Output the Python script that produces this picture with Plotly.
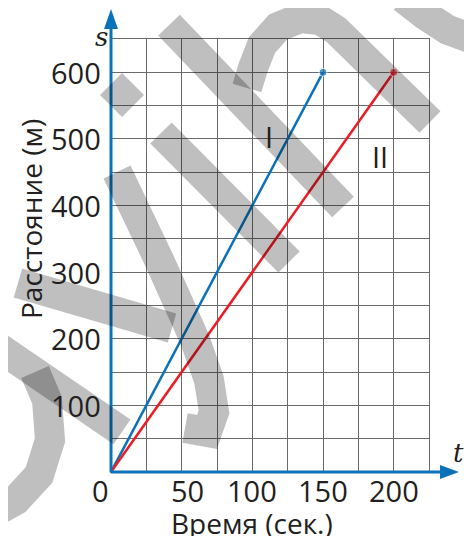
import plotly.graph_objects as go

# data
t_I = [0, 150]
s_I = [0, 600]
t_II = [0, 200]
s_II = [0, 600]
x_ticks = [0, 50, 100, 150, 200]
y_ticks = [100, 200, 300, 400, 500, 600]

BLUE = "#0b72b9"
RED = "#ec1c24"
INK = "#231f20"
FONT = "Open Sans"
FS = 29

# page body has an 8px margin, so the figure is 8px smaller and everything is measured
# in the 472x536 frame of the picture
OFF = 8
L, R, T, B = 111, 429, 39, 472   # grid area 0..225 x 0..650
W, H = R - L, B - T


def pp(px, py):
    return (px - L) / W, (B - py) / H


def path(points, close=False):
    s = ""
    for i, (a, b) in enumerate(points):
        x, y = pp(a, b)
        s += ("M" if i == 0 else "L") + f"{x:.4f},{y:.4f} "
    return s + ("Z" if close else "")


fig = go.Figure()
fig.add_trace(go.Scatter(x=t_I, y=s_I, mode="lines+markers", line=dict(color=BLUE, width=2.5),
                         marker=dict(size=[0, 8], color=BLUE), cliponaxis=False, showlegend=False))
fig.add_trace(go.Scatter(x=t_II, y=s_II, mode="lines+markers", line=dict(color=RED, width=2.5),
                         marker=dict(size=[0, 8], color=RED), cliponaxis=False, showlegend=False))

shapes = []
# blue axes with arrows
shapes.append(dict(type="line", xref="paper", yref="paper", x0=0, y0=0, x1=pp(444, 0)[0], y1=0,
                   line=dict(color=BLUE, width=3)))
shapes.append(dict(type="line", xref="paper", yref="paper", x0=0, y0=0, x1=0, y1=pp(0, 25)[1],
                   line=dict(color=BLUE, width=3)))
shapes.append(dict(type="path", xref="paper", yref="paper",
                   path=path([(440, 465), (459, 472), (440, 479)], True),
                   fillcolor=BLUE, line=dict(width=0)))
shapes.append(dict(type="path", xref="paper", yref="paper",
                   path=path([(104, 29), (111, 9), (118, 29)], True),
                   fillcolor=BLUE, line=dict(width=0)))

# watermark strokes
wm = "rgba(0,0,0,0.25)"
strokes = [
    [(169, 25), (343, 207)],
    [(161, 133), (289, 262)],
    [(247, 88), (253, 68), (262, 45), (278, 27), (300, 18), (320, 20), (336, 30), (430, 122)],
    [(403, -2), (425, 15), (448, 30), (476, 40)],
    [(117, 172), (160, 262), (195, 340), (209, 380), (214, 412), (207, 432), (185, 428)],
    [(18, 283), (172, 328)],
    [(-2, 347), (122, 432)],
    [(35, 372), (47, 400), (50, 440), (39, 475), (16, 500), (-2, 510)],
]
for st in strokes:
    shapes.append(dict(type="path", xref="paper", yref="paper", path=path(st), layer="above",
                       line=dict(color=wm, width=30)))
shapes.append(dict(type="path", xref="paper", yref="paper", layer="above",
                   path=path([(122, 73), (144, 95), (122, 117), (100, 95)], True),
                   fillcolor=wm, line=dict(width=0)))

ann = []
for v in y_ticks:
    ann.append(dict(x=pp(103, 0)[0], xref="paper", y=v, yref="y", text=str(v), showarrow=False,
                    xanchor="right", yanchor="middle", font=dict(size=FS, color=INK, family=FONT)))
for v, sh in zip(x_ticks, [-11, 6, 0, 0, 0]):
    ann.append(dict(x=v, xref="x", y=pp(0, 490)[1], yref="paper", text=str(v), showarrow=False,
                    xshift=sh, xanchor="center", yanchor="middle", height=30,
                    font=dict(size=FS, color=INK, family=FONT)))
ann.append(dict(x=pp(252, 0)[0], xref="paper", y=pp(0, 522)[1], yref="paper", text="Время (сек.)",
                showarrow=False, xanchor="center", yanchor="middle", height=27,
                font=dict(size=FS - 1, color=INK, family=FONT)))
ann.append(dict(x=pp(31, 0)[0], xref="paper", y=pp(0, 219)[1], yref="paper", text="Расстояние (м)",
                showarrow=False, textangle=-90, xanchor="center", yanchor="middle",
                font=dict(size=FS - 1, color=INK, family=FONT)))
ann.append(dict(x=pp(93, 0)[0], xref="paper", y=pp(0, 20)[1], yref="paper", text="<i>s</i>",
                showarrow=False, font=dict(size=26, color=INK, family="DejaVu Serif")))
ann.append(dict(x=pp(466, 0)[0], xref="paper", y=pp(0, 470)[1], yref="paper", text="<i>t</i>",
                showarrow=False, font=dict(size=26, color=INK, family="DejaVu Serif")))
ann.append(dict(x=112, y=503, text="I", showarrow=False, font=dict(size=FS, color=INK, family=FONT)))
ann.append(dict(x=190, y=473, text="II", showarrow=False, font=dict(size=FS, color=INK, family=FONT)))

fig.update_layout(
    width=472 - OFF, height=536 - OFF,
    margin=dict(l=L - OFF, r=472 - R, t=T - OFF, b=536 - B),
    paper_bgcolor="white", plot_bgcolor="white",
    xaxis=dict(range=[0, 225], dtick=25, tick0=0, showgrid=True, gridcolor="#6a6a6a", gridwidth=1.3,
               showticklabels=False, zeroline=False, showline=True, mirror=True,
               linecolor="#6a6a6a", linewidth=1.3, ticks=""),
    yaxis=dict(range=[0, 650], dtick=50, tick0=0, showgrid=True, gridcolor="#6a6a6a", gridwidth=1.3,
               showticklabels=False, zeroline=False, showline=True, mirror=True,
               linecolor="#6a6a6a", linewidth=1.3, ticks=""),
    shapes=shapes,
    annotations=ann,
)

fig.write_html("out.html")
